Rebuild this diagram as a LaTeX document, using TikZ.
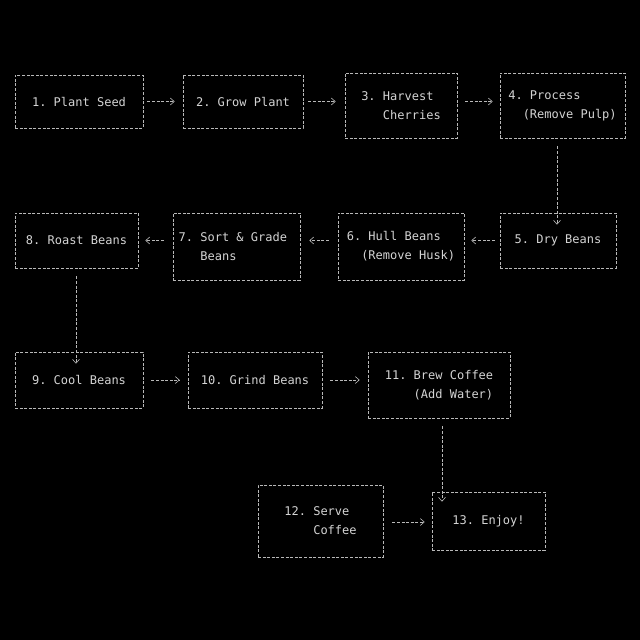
\documentclass[tikz,border=0pt]{standalone}
\usepackage{fontspec}
\setmonofont{DejaVu Sans Mono}
\usetikzlibrary{arrows.meta}
\definecolor{fg}{HTML}{D4D4D4}
\definecolor{ln}{HTML}{B8B8B8}
\newcommand{\bx}[6]{\node[box,minimum width={#4-#2},minimum height={#5-#3}] (#1) at ({(#2+#4)/2},{(#3+#5)/2}) {#6};}
\begin{document}
\begin{tikzpicture}[x=1pt,y=-1pt,
  box/.style={draw=ln,dash pattern=on 3pt off 1.6pt,line width=0.6pt,inner sep=0pt,
    text=fg,font=\ttfamily\fontsize{12}{19}\selectfont,align=left},
  conn/.style={draw=ln,dash pattern=on 3pt off 1.6pt,line width=0.6pt,-{Straight Barb[length=4pt,width=7pt]}}]
\fill[black] (0,0) rectangle (640,640);
\useasboundingbox (0,0) rectangle (640,640);
\bx{b1}{15}{75}{143}{128}{1. Plant Seed}
\bx{b2}{183}{75}{303}{128}{2. Grow Plant}
\bx{b3}{345}{73}{457}{138}{3. Harvest\\\phantom{3. }Cherries}
\bx{b4}{500}{73}{625}{138}{4. Process\\\phantom{4.}(Remove Pulp)}
\bx{b5}{500}{213}{616}{268}{5. Dry Beans}
\bx{b6}{338}{213}{464}{280}{6. Hull Beans\\\phantom{6.}(Remove Husk)}
\bx{b7}{173}{213}{300}{280}{7. Sort \& Grade\\\phantom{7. }Beans\phantom{ \& Grade}}
\bx{b8}{15}{213}{138}{268}{8. Roast Beans}
\bx{b9}{15}{352}{143}{408}{9. Cool Beans}
\bx{b10}{188}{352}{322}{408}{10. Grind Beans}
\bx{b11}{368}{352}{510}{418}{11. Brew Coffee\\\phantom{11. }(Add Water)}
\bx{b12}{258}{485}{383}{557}{12. Serve\\\phantom{12. }Coffee}
\bx{b13}{432}{492}{545}{550}{13. Enjoy!}
\draw[conn] ([xshift=4pt]b1.east) -- ([xshift=-8pt]b2.west);
\draw[conn] ([xshift=5pt]b2.east) -- ([xshift=-9pt]b3.west|-b2.east);
\draw[conn] ([xshift=8pt]b3.east|-b2.east) -- ([xshift=-7pt]b4.west|-b2.east);
\draw[conn] ([yshift=-8pt]b4.south-|557,0) -- ([yshift=-12pt]b5.north-|557,0);
\draw[conn] ([xshift=-5pt]b5.west) -- ([xshift=7pt]b6.east|-b5.west);
\draw[conn] ([xshift=-9pt]b6.west|-b5.west) -- ([xshift=9pt]b7.east|-b5.west);
\draw[conn] ([xshift=-9pt]b7.west|-b5.west) -- ([xshift=7pt]b8.east);
\draw[conn] ([yshift=-8pt]b8.south-|76,0) -- ([yshift=-12pt]b9.north-|76,0);
\draw[conn] ([xshift=8pt]b9.east) -- ([xshift=-8pt]b10.west);
\draw[conn] ([xshift=8pt]b10.east) -- ([xshift=-8pt]b11.west|-b10.east);
\draw[conn] ([yshift=-8pt]b11.south-|442,0) -- ([yshift=-10pt]b13.north-|442,0);
\draw[conn] ([xshift=9pt]b12.east|-0,522) -- ([xshift=-7pt]b13.west|-0,522);
\end{tikzpicture}
\end{document}
